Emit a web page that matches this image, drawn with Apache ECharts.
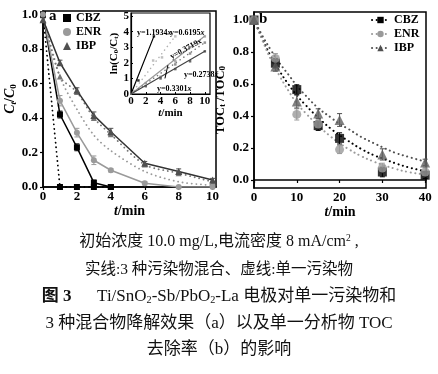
<!DOCTYPE html>
<html><head><meta charset="utf-8">
<script src="https://cdn.jsdelivr.net/npm/echarts@6/dist/echarts.min.js"></script>
<style>html,body{margin:0;padding:0;background:#fff}#c{width:438px;height:374px}</style>
</head><body><div id="c"></div><script>
// ---------- Panel (a): C_t/C_0 vs t ----------
const tA = [0, 1, 2, 3, 4, 6, 8, 10];
const tCbz = [0, 1, 2, 3, 4];
const cbzMix = [1.0, 0.42, 0.23, 0.025, 0.0];
const cbzMixErr = [0.01, 0.02, 0.02, 0.015, 0.0];
const cbzSingle = [1.0, 0.0, 0.0, 0.0, 0.0];
const enrMix = [1.0, 0.50, 0.315, 0.155, 0.097, 0.022, 0.0, 0.0];
const enrMixErr = [0.01, 0.03, 0.025, 0.025, 0.01, 0.01, 0.0, 0.0];
const enrSingle = [1.0, 0.64, 0.45, 0.30, 0.21, 0.09, 0.03, 0.01];
const ibpMix = [0.97, 0.72, 0.56, 0.415, 0.32, 0.138, 0.09, 0.04];
const ibpMixErr = [0.01, 0.015, 0.015, 0.02, 0.02, 0.01, 0.015, 0.01];
const ibpSingle = [1.0, 0.64, 0.55, 0.40, 0.305, 0.13, 0.08, 0.03];
const aTicksX = [0, 2, 4, 6, 8, 10];
const aTicksY = [0, 0.2, 0.4, 0.6, 0.8, 1.0];

// ---------- Inset: ln(C0/Ct) vs t ----------
const insetFitNames = ['y=1.1934x', 'y=0.6195x', 'y=0.3719x', 'y=0.3301x', 'y=0.2738x'];
const insetFitEndT = [3.1, 6, 10, 10, 10];
const insetFitEndY = [3.7, 3.72, 3.72, 3.3, 2.74];
const insetPtsT = [[1, 3.1], [3, 4.2, 6], [2, 6, 8, 10], [4, 6, 8, 10], [2, 4, 6, 8, 10]];
const insetPtsY = [[0.87, 3.7], [2.15, 2.35, 3.7], [0.7, 2.1, 3.0, 3.7], [1.1, 1.9, 2.6, 3.3], [0.5, 1.0, 1.6, 2.1, 2.74]];
const insetPointerT = [4.6, 5.0];
const insetPointerY = [1.0, 1.85];
const insetTicksX = [0, 2, 4, 6, 8, 10];
const insetTicksY = [0, 1, 2, 3, 4, 5];

// ---------- Panel (b): TOC_t/TOC_0 vs t ----------
const tB = [0, 5, 10, 15, 20, 30, 40];
const tocCbz = [1.0, 0.73, 0.565, 0.34, 0.26, 0.05, 0.03];
const tocCbzErr = [0.01, 0.03, 0.03, 0.03, 0.035, 0.03, 0.02];
const tocEnr = [1.0, 0.76, 0.41, 0.35, 0.19, 0.075, 0.05];
const tocEnrErr = [0.01, 0.03, 0.035, 0.03, 0.025, 0.03, 0.03];
const tocIbp = [1.0, 0.71, 0.49, 0.415, 0.375, 0.16, 0.11];
const tocIbpErr = [0.01, 0.03, 0.04, 0.03, 0.04, 0.035, 0.02];
const fitT = [0, 2, 4, 6, 8, 10, 12, 15, 18, 20, 22, 25, 28, 30, 33, 36, 40];
const fitCbz = [1.0, 0.88, 0.77, 0.68, 0.60, 0.53, 0.47, 0.39, 0.32, 0.28, 0.245, 0.195, 0.155, 0.135, 0.105, 0.08, 0.055];
const fitEnr = [1.0, 0.87, 0.75, 0.65, 0.56, 0.48, 0.42, 0.34, 0.27, 0.23, 0.195, 0.15, 0.115, 0.095, 0.07, 0.05, 0.035];
const fitIbp = [1.0, 0.90, 0.81, 0.73, 0.66, 0.59, 0.53, 0.45, 0.39, 0.35, 0.32, 0.27, 0.23, 0.205, 0.17, 0.145, 0.115];
const bTicksX = [0, 10, 20, 30, 40];
const bTicksY = [0, 0.2, 0.4, 0.6, 0.8, 1.0];

// ---------- caption ----------
const captionLines = [
  '初始浓度 10.0 mg/L,电流密度 8 mA/cm{sup|2} ,',
  '实线:3 种污染物混合、虚线:单一污染物',
  '{bd|图 3}      Ti/SnO{sub|2}-Sb/PbO{sub|2}-La 电极对单一污染物和',
  '3 种混合物降解效果（a）以及单一分析物 TOC',
  '去除率（b）的影响'
];

const SERIF = "'Liberation Serif','Times New Roman','Noto Sans CJK SC',serif";
const BLACK = '#000', GRAY = '#9a9a9a', DARK = '#505050';
const zip = (xs, ys) => xs.map((x, i) => [x, ys[i]]);
const DOT = [0.1, 4.5];

function errSeries(xi, yi, ts, vals, errs, color, z) {
  return {
    type: 'custom', xAxisIndex: xi, yAxisIndex: yi, z: z || 3, silent: true,
    encode: { x: 0, y: [1, 2] },
    data: ts.map((t, i) => [t, vals[i] - errs[i], vals[i] + errs[i]]),
    renderItem: (params, api) => {
      const lo = api.coord([api.value(0), api.value(1)]);
      const hi = api.coord([api.value(0), api.value(2)]);
      const w = 2.5, st = { stroke: color, lineWidth: 1 };
      return { type: 'group', children: [
        { type: 'line', shape: { x1: lo[0], y1: lo[1], x2: hi[0], y2: hi[1] }, style: st },
        { type: 'line', shape: { x1: lo[0] - w, y1: lo[1], x2: lo[0] + w, y2: lo[1] }, style: st },
        { type: 'line', shape: { x1: hi[0] - w, y1: hi[1], x2: hi[0] + w, y2: hi[1] }, style: st }
      ]};
    }
  };
}

const lblStyle = { color: '#000', fontFamily: SERIF, fontWeight: 'bold', fontSize: 13 };
const axLine = { show: true, lineStyle: { color: '#000', width: 1.5 } };

function mkAxisName(txt, fs, extra) {
  return Object.assign({
    name: txt, nameLocation: 'middle',
    nameTextStyle: {
      color: '#000', fontFamily: SERIF, fontSize: fs, fontWeight: 'bold',
      rich: {
        i: { fontFamily: SERIF, fontSize: fs, fontStyle: 'italic', fontWeight: 'bold', color: '#000' },
        n: { fontFamily: SERIF, fontSize: fs, fontWeight: 'bold', color: '#000' },
        s: { fontFamily: SERIF, fontSize: 9, fontWeight: 'bold', color: '#000', verticalAlign: 'bottom', lineHeight: 9 },
        si: { fontFamily: SERIF, fontSize: 9, fontStyle: 'italic', fontWeight: 'bold', color: '#000', verticalAlign: 'bottom', lineHeight: 9 }
      }
    }
  }, extra);
}

const series = [];
// panel a
series.push({ name: 'CBZ-a', type: 'line', xAxisIndex: 0, yAxisIndex: 0, data: zip(tCbz, cbzMix), symbol: 'rect', symbolSize: 6, color: BLACK, lineStyle: { width: 1.5, color: BLACK }, z: 4 });
series.push({ name: 'CBZ-as', type: 'line', xAxisIndex: 0, yAxisIndex: 0, data: zip(tCbz, cbzSingle), symbol: 'rect', symbolSize: 6, color: BLACK, lineStyle: { width: 1.8, type: DOT, cap: 'round', color: BLACK }, z: 4 });
series.push({ name: 'ENR-a', type: 'line', xAxisIndex: 0, yAxisIndex: 0, data: zip(tA, enrMix), symbol: 'circle', symbolSize: 6, color: GRAY, lineStyle: { width: 1.5, color: GRAY }, z: 4 });
series.push({ name: 'ENR-as', type: 'line', xAxisIndex: 0, yAxisIndex: 0, data: zip(tA, enrSingle), showSymbol: false, symbol: 'none', color: GRAY, smooth: 0.3, lineStyle: { width: 1.8, type: DOT, cap: 'round', color: GRAY }, z: 3 });
series.push({ name: 'IBP-a', type: 'line', xAxisIndex: 0, yAxisIndex: 0, data: zip(tA, ibpMix), symbol: 'triangle', symbolSize: 7, color: DARK, lineStyle: { width: 1.5, color: '#333' }, z: 4 });
series.push({ name: 'IBP-as', type: 'line', xAxisIndex: 0, yAxisIndex: 0, data: zip(tA, ibpSingle), symbol: 'triangle', symbolSize: 6, color: '#777', smooth: 0.3, lineStyle: { width: 1.8, type: DOT, cap: 'round', color: '#777' }, z: 3 });
series.push(errSeries(0, 0, tCbz, cbzMix, cbzMixErr, BLACK));
series.push(errSeries(0, 0, tA, enrMix, enrMixErr, GRAY));
series.push(errSeries(0, 0, tA, ibpMix, ibpMixErr, DARK));

// inset
const insetColors = [BLACK, '#b0b0b0', '#999', '#777', '#444'];
const insetTypes = ['solid', DOT, 'solid', DOT, 'solid'];
insetFitNames.forEach((nm, k) => {
  series.push({ name: nm, type: 'line', xAxisIndex: 2, yAxisIndex: 2, data: [[0, 0], [insetFitEndT[k], insetFitEndY[k]]], symbol: 'none', z: 6,
    lineStyle: { width: insetTypes[k] === 'solid' ? 1.2 : 1.5, type: insetTypes[k], cap: 'round', color: insetColors[k] } });
  series.push({ name: nm + '-p', type: 'scatter', xAxisIndex: 2, yAxisIndex: 2, data: zip(insetPtsT[k], insetPtsY[k]), symbol: 'rect', symbolSize: 2.5, itemStyle: { color: insetColors[k] }, z: 7 });
});
series.push({ name: 'pointer', type: 'line', xAxisIndex: 2, yAxisIndex: 2, data: zip(insetPointerT, insetPointerY), symbol: 'none', lineStyle: { width: 1, color: '#000' }, z: 7 });

// panel b
series.push({ name: 'CBZ', type: 'line', xAxisIndex: 1, yAxisIndex: 1, data: zip(fitT, fitCbz), smooth: true, symbol: 'rect', symbolSize: 8, showSymbol: false, color: BLACK, lineStyle: { width: 2, type: DOT, cap: 'round', color: BLACK }, z: 3 });
series.push({ name: 'ENR', type: 'line', xAxisIndex: 1, yAxisIndex: 1, data: zip(fitT, fitEnr), smooth: true, symbol: 'circle', symbolSize: 8, showSymbol: false, color: GRAY, lineStyle: { width: 2, type: DOT, cap: 'round', color: GRAY }, z: 3 });
series.push({ name: 'IBP', type: 'line', xAxisIndex: 1, yAxisIndex: 1, data: zip(fitT, fitIbp), smooth: true, symbol: 'triangle', symbolSize: 9, showSymbol: false, color: DARK, lineStyle: { width: 2, type: DOT, cap: 'round', color: DARK }, z: 3 });
series.push(errSeries(1, 1, tB, tocCbz, tocCbzErr, BLACK, 4));
series.push(errSeries(1, 1, tB, tocEnr, tocEnrErr, GRAY, 4));
series.push(errSeries(1, 1, tB, tocIbp, tocIbpErr, DARK, 4));
series.push({ name: 'CBZ-pts', type: 'scatter', xAxisIndex: 1, yAxisIndex: 1, data: zip(tB, tocCbz), symbol: 'rect', symbolSize: 9, itemStyle: { color: BLACK }, z: 5 });
series.push({ name: 'ENR-pts', type: 'scatter', xAxisIndex: 1, yAxisIndex: 1, data: zip(tB, tocEnr), symbol: 'circle', symbolSize: 9, itemStyle: { color: GRAY }, z: 5 });
series.push({ name: 'IBP-pts', type: 'scatter', xAxisIndex: 1, yAxisIndex: 1, data: zip(tB, tocIbp), symbol: 'triangle', symbolSize: 10, itemStyle: { color: '#606060' }, z: 5 });

const eqRich = { i: { fontFamily: SERIF, fontSize: 8, fontStyle: 'italic', fontWeight: 'bold' } };
const graphics = [
  { type: 'text', left: 49, top: 9, z: 10, style: { text: 'a', fontFamily: SERIF, fontSize: 15, fontWeight: 'bold', fill: '#000' } },
  { type: 'text', left: 259, top: 12, z: 10, style: { text: 'b', fontFamily: SERIF, fontSize: 15, fontWeight: 'bold', fill: '#000' } },
  { type: 'text', left: 137, top: 29, z: 10, style: { text: 'y=1.1934{i|x}', fontFamily: SERIF, fontSize: 8, fontWeight: 'bold', fill: '#000', rich: eqRich } },
  { type: 'text', left: 170, top: 29, z: 10, style: { text: 'y=0.6195{i|x}', fontFamily: SERIF, fontSize: 8, fontWeight: 'bold', fill: '#000', rich: eqRich } },
  { type: 'text', x: 186, y: 49, rotation: 0.5, z: 10, style: { text: 'y=0.3719{i|x}', align: 'center', verticalAlign: 'middle', fontFamily: SERIF, fontSize: 8, fontWeight: 'bold', fill: '#000', rich: eqRich } },
  { type: 'text', left: 184, top: 71, z: 10, style: { text: 'y=0.2738{i|x}', fontFamily: SERIF, fontSize: 8, fontWeight: 'bold', fill: '#000', rich: eqRich } },
  { type: 'text', left: 157, top: 85, z: 10, style: { text: 'y=0.3301{i|x}', fontFamily: SERIF, fontSize: 8, fontWeight: 'bold', fill: '#000', rich: eqRich } }
];
const capTops = [234, 262, 288, 315, 341];
const capSizes = [16, 15.5, 17, 17, 17];
captionLines.forEach((ln, k) => {
  const fs = capSizes[k];
  graphics.push({ type: 'text', left: 'center', top: capTops[k], z: 10,
    style: { text: ln, fontFamily: SERIF, fontSize: fs, fill: '#111',
      rich: {
        sub: { fontFamily: SERIF, fontSize: fs * 0.6, verticalAlign: 'bottom', lineHeight: fs * 0.6, fill: '#111' },
        sup: { fontFamily: SERIF, fontSize: fs * 0.6, verticalAlign: 'top', lineHeight: fs * 0.6, fill: '#111' },
        bd: { fontFamily: SERIF, fontSize: fs, fontWeight: 'bold', fill: '#111' }
      } } });
});

const chart = echarts.init(document.getElementById('c'), null, { renderer: 'canvas' });
chart.setOption({
  backgroundColor: '#fff',
  animation: false,
  grid: [
    { left: 43, top: 11, width: 173, height: 176, show: true, borderColor: '#000', borderWidth: 1.5, backgroundColor: 'transparent' },
    { left: 254, top: 12, width: 172, height: 176, show: true, borderColor: '#000', borderWidth: 1.5, backgroundColor: 'transparent' },
    { left: 131, top: 13, width: 79, height: 81, show: true, borderColor: '#000', borderWidth: 1.2, backgroundColor: '#fff', z: 5 }
  ],
  xAxis: [
    mkAxisName('{i|t}{n|/min}', 14, { gridIndex: 0, type: 'value', min: 0, max: 10.2, nameGap: 15,
      axisLine: axLine, splitLine: { show: false },
      axisTick: { show: true, length: 3, customValues: aTicksX, lineStyle: { color: '#000', width: 1.2 } },
      axisLabel: Object.assign({ margin: 3, customValues: aTicksX }, lblStyle) }),
    mkAxisName('{i|t}{n|/min}', 14, { gridIndex: 1, type: 'value', min: 0, max: 40.2, nameGap: 15,
      axisLine: axLine, splitLine: { show: false },
      axisTick: { show: true, length: 3, customValues: bTicksX, lineStyle: { color: '#000', width: 1.2 } },
      axisLabel: Object.assign({ margin: 3, customValues: bTicksX }, lblStyle) }),
    { gridIndex: 2, type: 'value', min: 0, max: 10.7, z: 6,
      name: '{i|t}{n|/min}', nameLocation: 'middle', nameGap: 11,
      nameTextStyle: { fontFamily: SERIF, fontSize: 11, fontWeight: 'bold', color: '#000',
        rich: { i: { fontFamily: SERIF, fontSize: 11, fontStyle: 'italic', fontWeight: 'bold', color: '#000' }, n: { fontFamily: SERIF, fontSize: 11, fontWeight: 'bold', color: '#000' } } },
      axisLine: { show: true, lineStyle: { color: '#000', width: 1.2 } }, splitLine: { show: false },
      axisTick: { show: true, inside: true, length: 2, customValues: insetTicksX, lineStyle: { color: '#000' } },
      axisLabel: { margin: 2, customValues: insetTicksX, color: '#000', fontFamily: SERIF, fontWeight: 'bold', fontSize: 11 } }
  ],
  yAxis: [
    mkAxisName('{i|C}{si|t}{n|/}{i|C}{s|0}', 14, { gridIndex: 0, type: 'value', min: 0, max: 1.02, nameGap: 25,
      axisLine: axLine, splitLine: { show: false },
      axisTick: { show: true, length: 3, customValues: aTicksY, lineStyle: { color: '#000', width: 1.2 } },
      axisLabel: Object.assign({ margin: 5, customValues: aTicksY, formatter: v => v.toFixed(1) }, lblStyle) }),
    mkAxisName('{n|TOC}{s|t}{n| /TOC}{s|0}', 12.5, { gridIndex: 1, type: 'value', min: -0.05, max: 1.05, nameGap: 27,
      axisLine: axLine, splitLine: { show: false },
      axisTick: { show: true, length: 3, customValues: bTicksY, lineStyle: { color: '#000', width: 1.2 } },
      axisLabel: Object.assign({ margin: 5, customValues: bTicksY, formatter: v => v.toFixed(1) }, lblStyle) }),
    { gridIndex: 2, type: 'value', min: 0, max: 5.2, z: 6,
      name: '{n|ln(C}{s|0}{n|/C}{s|t}{n|)}', nameLocation: 'middle', nameGap: 10,
      nameTextStyle: { fontFamily: SERIF, fontSize: 11, fontWeight: 'bold', color: '#000',
        rich: { n: { fontFamily: SERIF, fontSize: 11, fontWeight: 'bold', color: '#000' }, s: { fontFamily: SERIF, fontSize: 7, fontWeight: 'bold', color: '#000', verticalAlign: 'bottom', lineHeight: 7 } } },
      axisLine: { show: true, lineStyle: { color: '#000', width: 1.2 } }, splitLine: { show: false },
      axisTick: { show: true, inside: true, length: 2, customValues: insetTicksY, lineStyle: { color: '#000' } },
      axisLabel: { margin: 2, customValues: insetTicksY, color: '#000', fontFamily: SERIF, fontWeight: 'bold', fontSize: 11 } }
  ],
  legend: [
    { left: 63, top: 12, orient: 'vertical', itemWidth: 8, itemHeight: 8, itemGap: 2, padding: 0,
      data: [{ name: 'CBZ-a', icon: 'rect' }, { name: 'ENR-a', icon: 'circle' }, { name: 'IBP-a', icon: 'triangle' }],
      formatter: n => n.replace('-a', ''),
      textStyle: { color: '#000', fontFamily: SERIF, fontWeight: 'bold', fontSize: 12, lineHeight: 12 } },
    { left: 371, top: 14, orient: 'vertical', itemWidth: 17, itemHeight: 8, itemGap: 2, padding: 0,
      data: ['CBZ', 'ENR', 'IBP'],
      textStyle: { color: '#000', fontFamily: SERIF, fontWeight: 'bold', fontSize: 12, lineHeight: 12 } }
  ],
  series: series,
  graphic: graphics
});
</script></body></html>
